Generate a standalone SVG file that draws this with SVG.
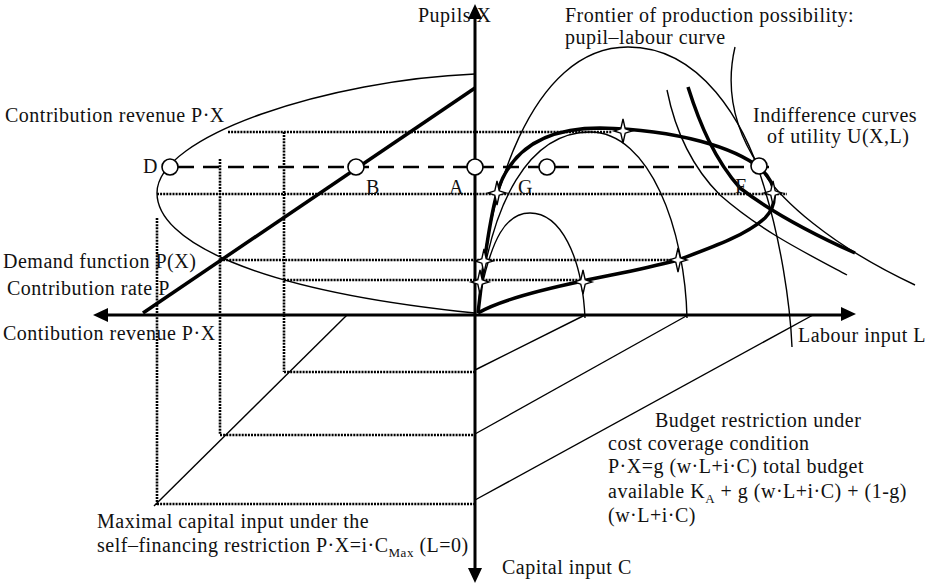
<svg xmlns="http://www.w3.org/2000/svg" width="925" height="584" viewBox="0 0 925 584">
<style>
  text { font-family: "Liberation Serif", "Times New Roman", serif; font-size: 20px; letter-spacing: 0.5px; fill: #111; }
  .axis { stroke: #000; stroke-width: 3; fill: none; }
  .thin { stroke: #000; stroke-width: 1.4; fill: none; }
  .thick { stroke: #000; stroke-width: 3.5; fill: none; }
  .dot { stroke: #000; stroke-width: 2.6; stroke-dasharray: 2 1.1; fill: none; }
  .dash { stroke: #000; stroke-width: 2.5; stroke-dasharray: 16 9; fill: none; }
  .pt { fill: #fff; stroke: #000; stroke-width: 1.6; }
  .star { fill: #fff; stroke: #000; stroke-width: 1.4; }
  .sub { font-size: 13px; }
</style>
<defs>
  <path id="starShape" d="M0,-12 L2.2,-2.2 L9,0 L2.2,2.2 L0,12 L-2.2,2.2 L-9,0 L-2.2,-2.2 Z"/>
</defs>

<g id="dotted-guides">
  <path class="dot" d="M228,132 H612"/>
  <path class="dot" d="M157,194 H787"/>
  <path class="dot" d="M220,260 H678"/>
  <path class="dot" d="M284,280 H583"/>
  <path class="dot" d="M284,372 H475"/>
  <path class="dot" d="M220,435 H475"/>
  <path class="dot" d="M157,504 H475"/>
  <path class="dot" d="M157,218 V505"/>
  <path class="dot" d="M220,159 V435"/>
  <path class="dot" d="M284,132 V372"/>
</g>

<g id="connectors">
  <!-- axes -->
  <path class="axis" d="M105,315 H842"/>
  <path class="axis" d="M475,18 V570"/>
  <polygon points="93,315 108,308 108,322" fill="#000"/>
  <polygon points="856,314 841,307 841,321" fill="#000"/>
  <polygon points="475,4 468,19 482,19" fill="#000"/>
  <polygon points="475,583 468,568 482,568" fill="#000"/>

  <!-- revenue curve (left) -->
  <path class="thin" d="M475,74 C330,80 157,135 157,193 C157,240 250,290 475,313"/>
  <!-- demand function -->
  <path class="thick" stroke-width="3" d="M143,313 L475,88"/>
  <!-- 45 degree line lower left -->
  <path class="thin" d="M154,506 L347,315"/>
  <!-- budget lines lower right -->
  <path class="thin" d="M475,370 L585,315"/>
  <path class="thin" d="M475,434 L688,315"/>
  <path class="thin" d="M475,500 L813,315"/>

  <!-- production arches -->
  <path class="thin" d="M478,313 C485,200 530,47 628,47 C700,47 745,120 765,190 C780,240 790,300 792,347"/>
  <path class="thin" d="M478,313 C490,200 530,132 590,132 C650,132 685,230 687,318"/>
  <path class="thin" d="M481,290 C492,240 505,213 530,213 C560,213 582,255 585,318"/>

  <!-- thick expansion loop -->
  <path class="thick" d="M478,313 C482,280 487,230 497,193 C510,150 545,128 600,128 C680,130 735,148 760,168 C778,184 778,205 765,218 C745,236 710,248 678,260 C640,270 610,275 583,281 C540,290 500,300 478,313"/>

  <!-- indifference curves -->
  <path class="thin" d="M667,90 C675,130 690,165 720,195 C760,230 800,250 847,275"/>
  <path class="thick" stroke-width="3" d="M688,87 C700,125 715,160 740,188 C775,215 815,235 855,253"/>
  <path class="thin" d="M735,47 C725,90 735,130 759,166 C780,200 830,245 915,285"/>

  <!-- dashed level line -->
  <path class="dash" d="M178,167 H775"/>
</g>

<g id="points">
  <g id="D"><circle class="pt" cx="170" cy="167" r="8"/><text x="143" y="173">D</text></g>
  <g id="B"><circle class="pt" cx="356" cy="167" r="8"/><text x="366" y="194">B</text></g>
  <g id="A"><circle class="pt" cx="475" cy="167" r="8"/><text x="449" y="194">A</text></g>
  <g id="G"><circle class="pt" cx="547" cy="167" r="8"/><text x="518" y="194">G</text></g>
  <g id="F"><circle class="pt" cx="759" cy="166" r="8"/><text x="735" y="193">F</text></g>
</g>

<g id="stars">
  <use href="#starShape" class="star" x="623" y="131"/>
  <use href="#starShape" class="star" x="497" y="193"/>
  <use href="#starShape" class="star" x="773" y="193"/>
  <use href="#starShape" class="star" x="484" y="261"/>
  <use href="#starShape" class="star" x="480" y="282"/>
  <use href="#starShape" class="star" x="583" y="282"/>
  <use href="#starShape" class="star" x="678" y="260"/>
</g>

<g id="labels">
  <text x="418" y="22">Pupils X</text>
  <text x="565" y="22">Frontier of production possibility:</text>
  <text x="565" y="44">pupil–labour curve</text>
  <text x="5" y="122">Contribution revenue P·X</text>
  <text x="753" y="122">Indifference curves</text>
  <text x="767" y="143">of utility U(X,L)</text>
  <text x="3" y="268">Demand function P(X)</text>
  <text x="7" y="295">Contribution rate P</text>
  <text x="3" y="340">Contibution revenue P·X</text>
  <text x="798" y="342">Labour input L</text>
  <text x="655" y="427">Budget restriction under</text>
  <text x="608" y="450">cost coverage condition</text>
  <text x="608" y="473">P·X=g (w·L+i·C) total budget</text>
  <text x="608" y="498">available K<tspan class="sub" dy="5">A</tspan><tspan dy="-5"> + g (w·L+i·C) + (1-g)</tspan></text>
  <text x="608" y="522">(w·L+i·C)</text>
  <text x="97" y="528">Maximal capital input under the</text>
  <text x="97" y="552">self–financing restriction P·X=i·C<tspan class="sub" dy="5">Max</tspan><tspan dy="-5"> (L=0)</tspan></text>
  <text x="502" y="574">Capital input C</text>
</g>
</svg>
